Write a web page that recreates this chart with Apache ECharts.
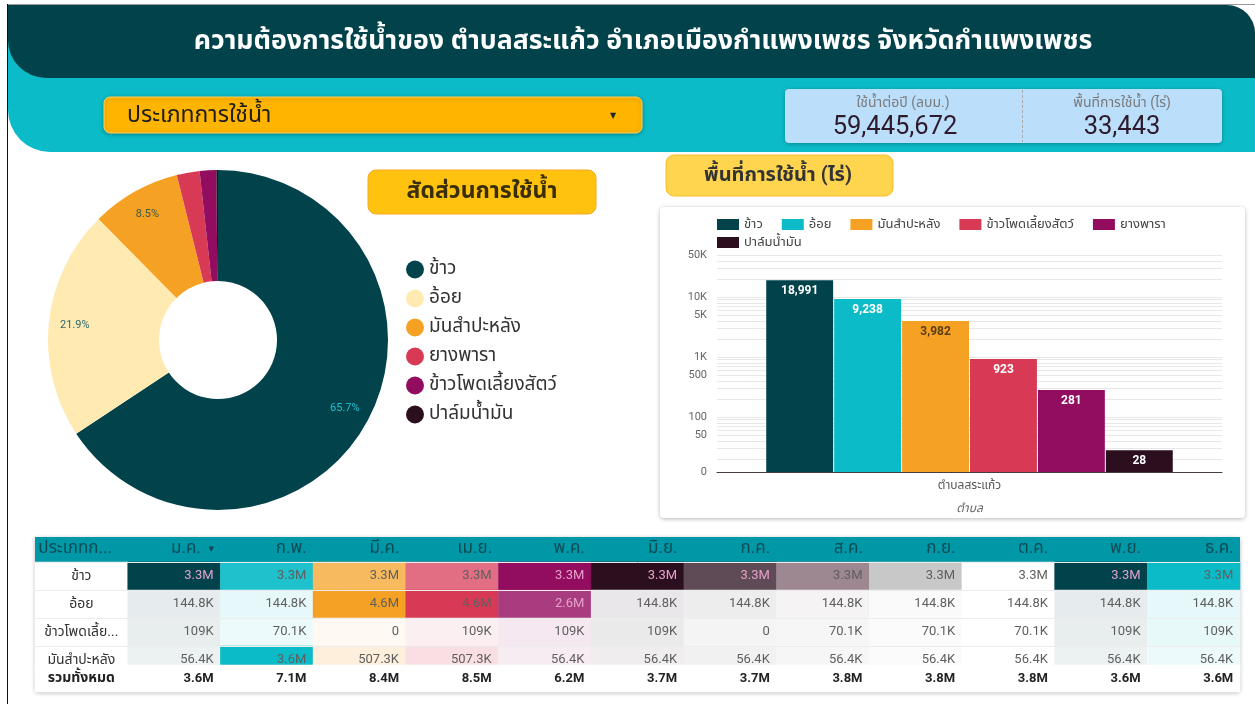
<!DOCTYPE html>
<html><head><meta charset="utf-8">
<script src="https://cdn.jsdelivr.net/npm/echarts@6/dist/echarts.min.js"></script>
<style>html,body{margin:0;padding:0;background:#fff;}#c{width:1255px;height:704px;}</style>
</head><body><div id="c"></div>
<script>
const FONT = 'Roboto, "Noto Sans Thai", "Noto Sans", sans-serif';

// ---- texts ----
const titleText = 'ความต้องการใช้น้ำของ ตำบลสระแก้ว อำเภอเมืองกำแพงเพชร จังหวัดกำแพงเพชร';
const filterLabel = 'ประเภทการใช้น้ำ';
const kpiLabels = ['ใช้น้ำต่อปี (ลบม.)', 'พื้นที่การใช้น้ำ (ไร่)'];
const totalWater = 59445672;

// ---- pie: water share ----
const pieTitle = 'สัดส่วนการใช้น้ำ';
const pieNames = ['ข้าว', 'อ้อย', 'มันสำปะหลัง', 'ยางพารา', 'ข้าวโพดเลี้ยงสัตว์', 'ปาล์มน้ำมัน'];
const pieValues = [39056000, 13018600, 5052900, 1290000, 934400, 93772];
const pieColors = ['#01424b', '#ffeab2', '#f5a123', '#d83a56', '#920c5f', '#2b0f1f'];
const pieLabelColors = ['#1fc3cf', '#2b6870', '#3d5a4c', null, null, null];

// ---- bar: area (rai) ----
const barTitle = 'พื้นที่การใช้น้ำ (ไร่)';
const barCategory = ['ตำบลสระแก้ว'];
const barAxisName = 'ตำบล';
const barNames = ['ข้าว', 'อ้อย', 'มันสำปะหลัง', 'ข้าวโพดเลี้ยงสัตว์', 'ยางพารา', 'ปาล์มน้ำมัน'];
const barValues = [18991, 9238, 3982, 923, 281, 28];
const barColors = ['#01424b', '#0bbcc8', '#f5a123', '#d83a56', '#920c5f', '#2b0f1f'];
const barLabelColors = ['#ffffff', '#ffffff', '#5a3d12', '#ffffff', '#ffffff', '#ffffff'];
const yAxisMin = 12.1;
const yAxisMax = 50000;
const yTickValues = [12.1, 50, 100, 500, 1000, 5000, 10000, 50000];
const yTickLabels = ['0', '50', '100', '500', '1K', '5K', '10K', '50K'];
const yGridValues = [20, 30, 40, 50, 60, 70, 80, 90, 100, 200, 300, 400, 500, 600, 700, 800, 900,
  1000, 2000, 3000, 4000, 5000, 6000, 7000, 8000, 9000, 10000, 20000, 30000, 40000, 50000];

// ---- table: monthly water use ----
const tableFirstHeader = 'ประเภทก...';
const sortMarker = '▾';
const months = ['ม.ค.', 'ก.พ.', 'มี.ค.', 'เม.ย.', 'พ.ค.', 'มิ.ย.', 'ก.ค.', 'ส.ค.', 'ก.ย.', 'ต.ค.', 'พ.ย.', 'ธ.ค.'];
const tableRows = ['ข้าว', 'อ้อย', 'ข้าวโพดเลี้ย...', 'มันสำปะหลัง'];
const riceMonthly = [3.3e6, 3.3e6, 3.3e6, 3.3e6, 3.3e6, 3.3e6, 3.3e6, 3.3e6, 3.3e6, 3.3e6, 3.3e6, 3.3e6];
const caneMonthly = [144800, 144800, 4.6e6, 4.6e6, 2.6e6, 144800, 144800, 144800, 144800, 144800, 144800, 144800];
const cornMonthly = [109000, 70100, 0, 109000, 109000, 109000, 0, 70100, 70100, 70100, 109000, 109000];
const cassavaMonthly = [56400, 3.6e6, 507300, 507300, 56400, 56400, 56400, 56400, 56400, 56400, 56400, 56400];
const totalLabel = 'รวมทั้งหมด';
const monthTotals = [3.6e6, 7.1e6, 8.4e6, 8.5e6, 6.2e6, 3.7e6, 3.7e6, 3.8e6, 3.8e6, 3.8e6, 3.6e6, 3.6e6];
const monthColors = ['#01424b', '#0bbcc8', '#f5a123', '#d83a56', '#920c5f', '#2b0f1f',
  '#5e4b56', '#9d8791', '#c8c8c8', '#ffffff', '#01424b', '#0bbcc8'];

// ---- helpers ----
function fmtShort(v) {
  if (v === 0) return '0';
  let s, u;
  if (v >= 1e6) { s = (v / 1e6).toFixed(1); u = 'M'; } else if (v >= 1e3) { s = (v / 1e3).toFixed(1); u = 'K'; } else { return String(v); }
  if (s.endsWith('.0')) s = s.slice(0, -2);
  return s + u;
}
function hexRgb(h) { return [1, 3, 5].map(i => parseInt(h.substr(i, 2), 16)); }
function mixWhite(h, t) {
  const c = hexRgb(h).map(x => Math.round(255 - (255 - x) * t));
  return 'rgb(' + c.join(',') + ')';
}
function lum(h) { const c = hexRgb(h); return (0.299 * c[0] + 0.587 * c[1] + 0.114 * c[2]) / 255; }

const tableMatrix = [riceMonthly, caneMonthly, cornMonthly, cassavaMonthly];

// ---- series ----
const series = [];
series.push({
  type: 'pie', center: [218, 340], radius: [59, 170], startAngle: 90, silent: true,
  label: { show: false }, labelLine: { show: false },
  data: pieNames.map((n, i) => ({ name: n, value: pieValues[i], itemStyle: { color: pieColors[i] } }))
});
series.push({
  type: 'pie', center: [218, 340], radius: [112, 170], startAngle: 90, silent: true, percentPrecision: 1,
  itemStyle: { color: 'rgba(0,0,0,0)' }, labelLine: { show: false },
  label: { show: true, position: 'inside', fontSize: 11, fontFamily: FONT, formatter: p => p.percent + '%' },
  data: pieNames.map((n, i) => ({
    name: n + ' ', value: pieValues[i],
    label: pieLabelColors[i] ? { color: pieLabelColors[i] } : { show: false }
  }))
});
barNames.forEach((n, i) => {
  series.push({
    type: 'bar', name: n, xAxisIndex: 0, yAxisIndex: 0, data: [barValues[i]],
    itemStyle: { color: barColors[i] }, barGap: '1.5%', barCategoryGap: '19.5%',
    label: { show: true, position: 'insideTop', distance: 5, color: barLabelColors[i], fontSize: 12,
      fontWeight: 'bold', fontFamily: FONT, formatter: p => p.value.toLocaleString('en-US') }
  });
});
// row label column
series.push({
  type: 'heatmap', xAxisIndex: 1, yAxisIndex: 1, silent: true,
  itemStyle: { color: '#ffffff' },
  label: { show: true, color: '#333', fontSize: 14, fontFamily: FONT, formatter: p => tableRows[p.value[1]] },
  data: tableRows.map((r, ri) => [0, ri, 0])
});
const firstMonthSeries = series.length;
const visualMaps = [];
months.forEach((m, mi) => {
  const col = tableMatrix.map(row => row[mi]);
  const mx = Math.max(...col);
  visualMaps.push({
    type: 'continuous', show: false, seriesIndex: firstMonthSeries + mi, dimension: 2,
    min: 0, max: mx, inRange: { color: [mixWhite(monthColors[mi], 0.06), monthColors[mi]] }
  });
  series.push({
    type: 'heatmap', xAxisIndex: 1, yAxisIndex: 1, silent: true,
    label: { show: true, position: 'insideRight', distance: 7, fontSize: 13, fontFamily: FONT, color: '#5f5f5f',
      formatter: p => fmtShort(p.value[2]) },
    data: col.map((v, ri) => ({
      value: [mi + 1, ri, v],
      label: { color: (lum(monthColors[mi]) < 0.35 && v / mx > 0.5) ? '#e6a1c9' : '#5f5f5f' }
    }))
  });
});
series.push({
  type: 'heatmap', xAxisIndex: 2, yAxisIndex: 2, silent: true, z: 10,
  itemStyle: { color: '#ffffff' },
  label: { show: true, position: 'insideRight', distance: 7, fontSize: 13, fontWeight: 'bold', color: '#222',
    fontFamily: FONT, formatter: p => p.value[0] === 0 ? totalLabel : fmtShort(p.value[2]) },
  data: [{ value: [0, 0, 0], label: { position: 'inside', fontSize: 14 } }].concat(monthTotals.map((v, i) => [i + 1, 0, v]))
});

// ---- decorations ----
const shadow = { shadowBlur: 4, shadowOffsetY: 1, shadowColor: 'rgba(0,0,0,0.28)' };
const graphic = [
  { type: 'line', z: 0, shape: { x1: 7, y1: 4.5, x2: 1255, y2: 4.5 }, style: { stroke: '#9a9a9a', lineWidth: 1 } },
  { type: 'line', z: 0, shape: { x1: 7.5, y1: 4, x2: 7.5, y2: 704 }, style: { stroke: '#111', lineWidth: 1 } },
  { type: 'rect', z: 0, shape: { x: 8, y: 40, width: 1247, height: 112, r: [0, 0, 0, 42] }, style: { fill: '#0bbcc8' } },
  { type: 'rect', z: 0, shape: { x: 8, y: 5, width: 1247, height: 73, r: [0, 28, 0, 38] }, style: { fill: '#01424b' } },
  { type: 'text', z: 1, x: 643, y: 42, style: { text: titleText, fill: '#ffffff', font: 'bold 26.7px ' + FONT, align: 'center', verticalAlign: 'middle' } },
  // dropdown
  { type: 'rect', z: 0, shape: { x: 104, y: 97, width: 538, height: 36, r: 6 }, style: Object.assign({ fill: '#ffb400', stroke: '#ffd35c', lineWidth: 1 }, shadow) },
  { type: 'text', z: 1, x: 127, y: 116, style: { text: filterLabel, fill: '#1e1e1e', font: '23px ' + FONT, align: 'left', verticalAlign: 'middle' } },
  { type: 'text', z: 1, x: 613, y: 116, style: { text: '▼', fill: '#222', font: '8px DejaVu Sans', align: 'center', verticalAlign: 'middle' } },
  // KPI
  { type: 'rect', z: 0, shape: { x: 785, y: 89, width: 437, height: 54, r: 4 }, style: Object.assign({ fill: '#bbdefb' }, shadow) },
  { type: 'line', z: 1, shape: { x1: 1022.5, y1: 90, x2: 1022.5, y2: 142 }, style: { stroke: '#aaaaaa', lineWidth: 1, lineDash: [3, 2] } },
  { type: 'text', z: 1, x: 903, y: 103, style: { text: kpiLabels[0], fill: '#7a7a7a', font: '14px ' + FONT, align: 'center', verticalAlign: 'middle' } },
  { type: 'text', z: 1, x: 895, y: 128, style: { text: totalWater.toLocaleString('en-US'), fill: '#2d1b2b', font: '25.5px ' + FONT, align: 'center', verticalAlign: 'middle' } },
  { type: 'text', z: 1, x: 1122, y: 103, style: { text: kpiLabels[1], fill: '#7a7a7a', font: '14px ' + FONT, align: 'center', verticalAlign: 'middle' } },
  { type: 'text', z: 1, x: 1122, y: 128, style: { text: barValues.reduce((a, b) => a + b, 0).toLocaleString('en-US'), fill: '#2d1b2b', font: '25.5px ' + FONT, align: 'center', verticalAlign: 'middle' } },
  // section titles
  { type: 'rect', z: 0, shape: { x: 368, y: 170, width: 228, height: 44, r: 8 }, style: { fill: '#ffc20e', stroke: '#f7a823', lineWidth: 1 } },
  { type: 'text', z: 1, x: 482, y: 192, style: { text: pieTitle, fill: '#3a2e08', font: 'bold 23px ' + FONT, align: 'center', verticalAlign: 'middle' } },
  { type: 'rect', z: 0, shape: { x: 666, y: 155, width: 227, height: 41, r: 8 }, style: { fill: '#ffd54f', stroke: '#f8bf2a', lineWidth: 1 } },
  { type: 'text', z: 1, x: 778, y: 176, style: { text: barTitle, fill: '#333', font: 'bold 20px ' + FONT, align: 'center', verticalAlign: 'middle' } },
  // cards
  { type: 'rect', z: 0, shape: { x: 660, y: 207, width: 585, height: 311, r: 4 }, style: Object.assign({ fill: '#ffffff' }, shadow) },
  { type: 'rect', z: 0, shape: { x: 35, y: 537, width: 1205, height: 155, r: 3 }, style: Object.assign({ fill: '#ffffff' }, shadow) },
  { type: 'rect', z: 0, shape: { x: 35, y: 537, width: 1205, height: 25 }, style: { fill: '#0097a7' } }
];

const option = {
  animation: false,
  textStyle: { fontFamily: FONT },
  graphic: graphic,
  legend: [
    { data: barNames.slice(0, 5), left: 712, top: 213, icon: 'rect', itemWidth: 22, itemHeight: 11, itemGap: 19,
      selectedMode: false, textStyle: { fontSize: 13, color: '#444', fontFamily: FONT } },
    { data: barNames.slice(5), left: 712, top: 231, icon: 'rect', itemWidth: 22, itemHeight: 11,
      selectedMode: false, textStyle: { fontSize: 13, color: '#444', fontFamily: FONT } },
    { data: pieNames.map((n, i) => ({ name: n, itemStyle: { color: pieColors[i] } })), orient: 'vertical',
      left: 401, top: 255, icon: 'circle', itemWidth: 18, itemHeight: 18, itemGap: 10, selectedMode: false,
      textStyle: { fontSize: 19, color: '#333', fontFamily: FONT } }
  ],
  visualMap: visualMaps,
  grid: [
    { left: 717, top: 255, width: 505, height: 217 },
    { left: 35, top: 562, width: 1205, height: 112 },
    { left: 35, top: 665, width: 1205, height: 27 }
  ],
  xAxis: [
    { type: 'category', gridIndex: 0, data: barCategory, axisTick: { show: false },
      axisLine: { lineStyle: { color: '#4a3a45' } },
      axisLabel: { fontSize: 12, color: '#555', margin: 8 },
      name: barAxisName, nameLocation: 'middle', nameGap: 31,
      nameTextStyle: { fontSize: 12, color: '#666', fontStyle: 'italic' } },
    { type: 'category', gridIndex: 1, position: 'top', z: 6, data: [tableFirstHeader].concat(months),
      axisLine: { show: false }, axisTick: { show: false }, splitLine: { show: false },
      axisLabel: { interval: 0, margin: 13, verticalAlign: 'middle', color: '#0d4c55', fontSize: 17,
        formatter: (v, i) => i === 0 ? '{l|' + v + '}' : (i === 1 ? '{r1|' + v + ' }{s|' + sortMarker + '}' : '{r|' + v + '}'),
        rich: { l: { width: 86, align: 'left', fontSize: 17, color: '#0d4c55' },
                r: { width: 80, align: 'right', fontSize: 17, color: '#0d4c55' },
                r1: { width: 71, align: 'right', fontSize: 17, color: '#0d4c55' },
                s: { width: 9, align: 'right', fontSize: 11, color: '#0d4c55', fontFamily: 'DejaVu Sans' } } } },
    { type: 'category', gridIndex: 2, data: [tableFirstHeader].concat(months), show: false }
  ],
  yAxis: [
    { type: 'log', gridIndex: 0, min: yAxisMin, max: yAxisMax, logBase: 10,
      axisLine: { show: false }, axisTick: { show: false, customValues: yGridValues },
      axisLabel: { customValues: yTickValues, fontSize: 11, color: '#666', margin: 10,
        formatter: v => { const i = yTickValues.findIndex(t => Math.abs(Math.log10(t) - Math.log10(v)) < 0.01); return i >= 0 ? yTickLabels[i] : ''; } },
      splitLine: { show: true, lineStyle: { color: '#e8e8e8' } } },
    { type: 'category', gridIndex: 1, data: tableRows, inverse: true, z: 5,
      axisLine: { show: false }, axisTick: { show: false }, axisLabel: { show: false },
      splitLine: { show: true, lineStyle: { color: '#ececec' } } },
    { type: 'category', gridIndex: 2, data: [totalLabel], show: false }
  ],
  series: series
};
const chart = echarts.init(document.getElementById('c'), null, { renderer: 'canvas' });
chart.setOption(option);
</script></body></html>
